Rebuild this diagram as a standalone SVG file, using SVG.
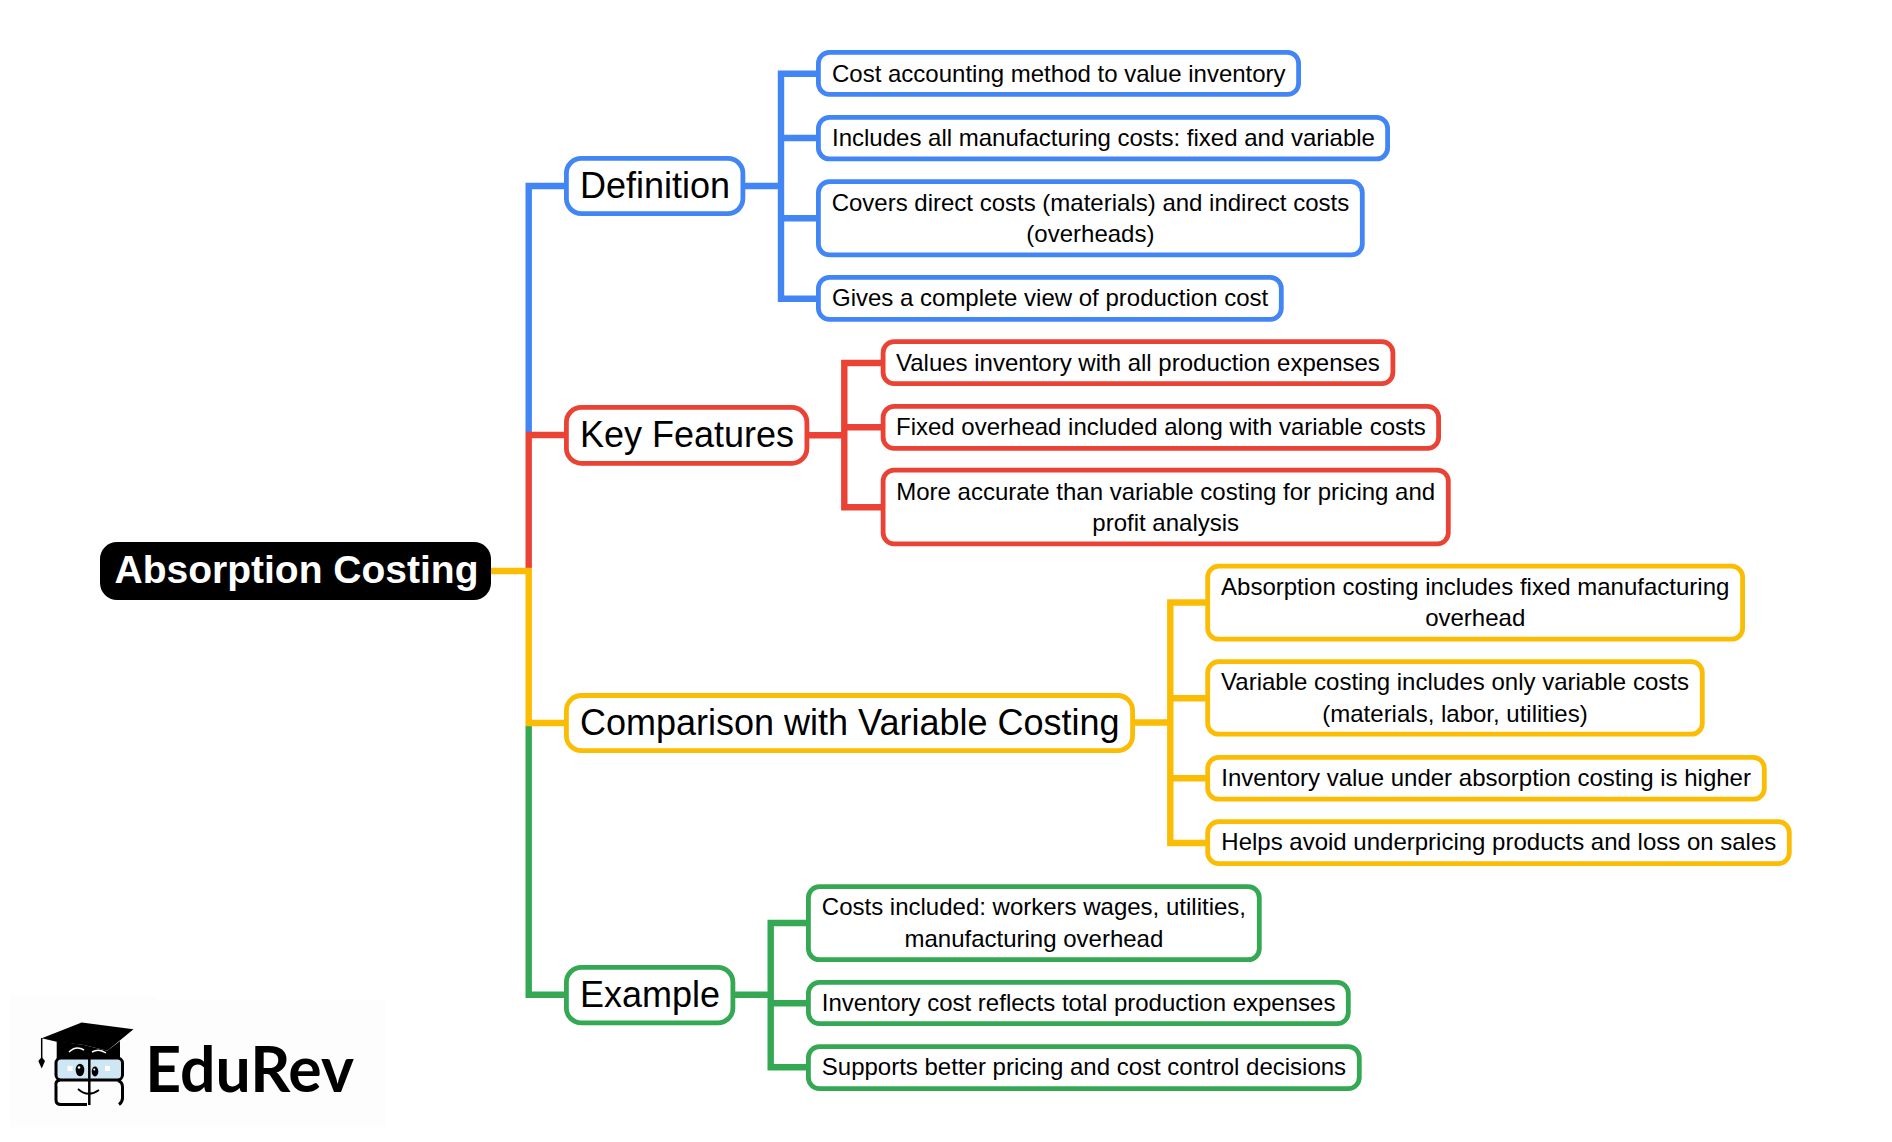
<svg xmlns="http://www.w3.org/2000/svg" width="1892" height="1142" viewBox="0 0 1892 1142">
<style>
text{font-family:"Liberation Sans",Arial,sans-serif;fill:#000}
.leaf{font-size:24px}
.branch{font-size:36px}
.mid{text-anchor:middle}
.box{fill:#fff;stroke-width:4.8}
.l{rx:11px;ry:11px}
.b{rx:15px;ry:15px}
.blue{stroke:#4285f4}
.red{stroke:#ea4335}
.yellow{stroke:#fbbc04}
.green{stroke:#34a853}
.wire{fill:none;stroke-width:6.4;stroke-linejoin:miter}
</style>
<rect width="1892" height="1142" fill="#fff"/>
<g id="logo">
<rect x="10" y="995" width="145" height="132" fill="#fdfdfd"/>
<rect x="155" y="1000" width="230" height="127" fill="#fdfdfd"/>
<path d="M41.700 1038.300 L81.700 1022.500 L133.500 1029.300 L107.300 1050.700 L84 1045 L56.700 1041.700 Z" fill="#000"/>
<path d="M56.700 1041 L84 1045 L107.300 1050.700 L120 1041 V1059 H56.700 Z" fill="#000"/>
<path d="M41.700 1038 V1058" stroke="#000" stroke-width="1.500" fill="none"/>
<path d="M38.300 1061 L41.700 1057 L45 1061 L41.700 1068.500 Z" fill="#000"/>
<path d="M69 1052 Q76 1045 84 1050 M92 1052 Q99 1048 106 1053" stroke="#fff" stroke-width="1.500" fill="none"/>
<rect x="56" y="1058" width="66.500" height="22" rx="5" fill="#cfe6f5" stroke="#000" stroke-width="3"/>
<path d="M56 1086 Q55 1081 60 1080 M56 1086 V1100 Q56 1104.500 61 1104.500 H87 M118 1080.500 Q122.500 1082 122.500 1087 V1098 Q122.500 1102 119 1104.500" stroke="#000" stroke-width="3" fill="none"/>
<path d="M89.300 1055 V1105" stroke="#000" stroke-width="2.500" fill="none"/>
<ellipse cx="80" cy="1070" rx="4.300" ry="6.200" fill="#000"/>
<ellipse cx="95" cy="1071.500" rx="3.300" ry="5" fill="#000"/>
<circle cx="79" cy="1067.500" r="1.300" fill="#fff"/>
<circle cx="94.300" cy="1069.500" r="1" fill="#fff"/>
<rect x="67.500" y="1066" width="5" height="5" fill="#fff"/>
<rect x="105" y="1066" width="5" height="5" fill="#fff"/>
<path d="M78 1089 Q88 1098 99 1090" stroke="#000" stroke-width="1.800" fill="none"/>
<text x="145.200" y="1092.300" style="font-family:Lato,'Liberation Sans',sans-serif;font-weight:700;font-size:62.500px">EduRev</text>
</g>
<g id="root">
<rect x="100" y="542" width="391" height="58" rx="17" fill="#000"/>
<text x="114.500" y="583" style="font-size:39px;font-weight:700;fill:#fff">Absorption Costing</text>
</g>
<g id="definition">
<rect class="box b blue" x="566.400" y="158.400" width="176.500" height="55.200"/>
<text class="branch" x="580" y="197.800">Definition</text>
</g>
<g id="def-1">
<rect class="box l blue" x="818.400" y="52.400" width="480.200" height="41.900"/>
<text class="leaf" x="832" y="81.700">Cost accounting method to value inventory</text>
</g>
<g id="def-2">
<rect class="box l blue" x="818.400" y="117.400" width="569.200" height="41.500"/>
<text class="leaf" x="832" y="146">Includes all manufacturing costs: fixed and variable</text>
</g>
<g id="def-3">
<rect class="box l blue" x="818.400" y="181.700" width="543.900" height="73.200"/>
<text class="leaf mid" x="1090.400" y="210.700">Covers direct costs (materials) and indirect costs</text>
<text class="leaf mid" x="1090.400" y="241.700">(overheads)</text>
</g>
<g id="def-4">
<rect class="box l blue" x="818.400" y="277.400" width="462.900" height="41.900"/>
<text class="leaf" x="832" y="305.700">Gives a complete view of production cost</text>
</g>
<g id="features">
<rect class="box b red" x="566.400" y="407.400" width="240.500" height="55.900"/>
<text class="branch" x="580" y="446.700">Key Features</text>
</g>
<g id="fea-1">
<rect class="box l red" x="883.100" y="341.700" width="509.800" height="41.900"/>
<text class="leaf" x="896" y="370.700">Values inventory with all production expenses</text>
</g>
<g id="fea-2">
<rect class="box l red" x="883.100" y="406.400" width="555.500" height="41.900"/>
<text class="leaf" x="896" y="435">Fixed overhead included along with variable costs</text>
</g>
<g id="fea-3">
<rect class="box l red" x="883.100" y="470.200" width="565.200" height="73.600"/>
<text class="leaf mid" x="1165.700" y="499.500">More accurate than variable costing for pricing and</text>
<text class="leaf mid" x="1165.700" y="530.500">profit analysis</text>
</g>
<g id="comparison">
<rect class="box b yellow" x="566.400" y="695.500" width="566.200" height="55.200"/>
<text class="branch" x="580" y="735">Comparison with Variable Costing</text>
</g>
<g id="com-1">
<rect class="box l yellow" x="1207.700" y="566.200" width="534.900" height="73"/>
<text class="leaf mid" x="1475.200" y="594.500">Absorption costing includes fixed manufacturing</text>
<text class="leaf mid" x="1475.200" y="626">overhead</text>
</g>
<g id="com-2">
<rect class="box l yellow" x="1207.700" y="661.700" width="494.600" height="72.500"/>
<text class="leaf mid" x="1455" y="690.200">Variable costing includes only variable costs</text>
<text class="leaf mid" x="1455" y="721.500">(materials, labor, utilities)</text>
</g>
<g id="com-3">
<rect class="box l yellow" x="1207.700" y="757.400" width="556.600" height="41.800"/>
<text class="leaf" x="1221.300" y="785.900">Inventory value under absorption costing is higher</text>
</g>
<g id="com-4">
<rect class="box l yellow" x="1207.700" y="821.700" width="581.600" height="41.900"/>
<text class="leaf" x="1221.300" y="850.200">Helps avoid underpricing products and loss on sales</text>
</g>
<g id="example">
<rect class="box b green" x="566.400" y="967.400" width="166.500" height="55.500"/>
<text class="branch" x="580" y="1007.300">Example</text>
</g>
<g id="exa-1">
<rect class="box l green" x="808.400" y="886.700" width="450.900" height="73"/>
<text class="leaf mid" x="1033.900" y="915.200">Costs included: workers wages, utilities,</text>
<text class="leaf mid" x="1033.900" y="946.500">manufacturing overhead</text>
</g>
<g id="exa-2">
<rect class="box l green" x="808.400" y="982.400" width="539.900" height="41.200"/>
<text class="leaf" x="821.800" y="1011.200">Inventory cost reflects total production expenses</text>
</g>
<g id="exa-3">
<rect class="box l green" x="808.400" y="1046.700" width="550.900" height="41.900"/>
<text class="leaf" x="821.800" y="1075.200">Supports better pricing and cost control decisions</text>
</g>
<g id="connectors">
<path class="wire blue" d="M568 186 H528.700 V432"/>
<path class="wire red" d="M568 435 H528.700 V568"/>
<path class="wire green" d="M528.700 725.500 V994.800 H568"/>
<path class="wire yellow" d="M491 571 H528.700 V723 H568"/>
<path class="wire blue" d="M820 73.700 H781 V298.700 H820 M781 138 H820 M743 186 H781 M781 218.300 H820"/>
<path class="wire red" d="M885 363 H844.300 V507.300 H885 M844.300 427.300 H885 M806 435.300 H844.300"/>
<path class="wire yellow" d="M1209.500 602.500 H1170.300 V843 H1209.500 M1170.300 698.300 H1209.500 M1132 722.500 H1170.300 M1170.300 778.300 H1209.500"/>
<path class="wire green" d="M810 923 H770.700 V1067.300 H810 M770.700 1003.300 H810 M733 994.800 H770.700"/>
</g>
</svg>
